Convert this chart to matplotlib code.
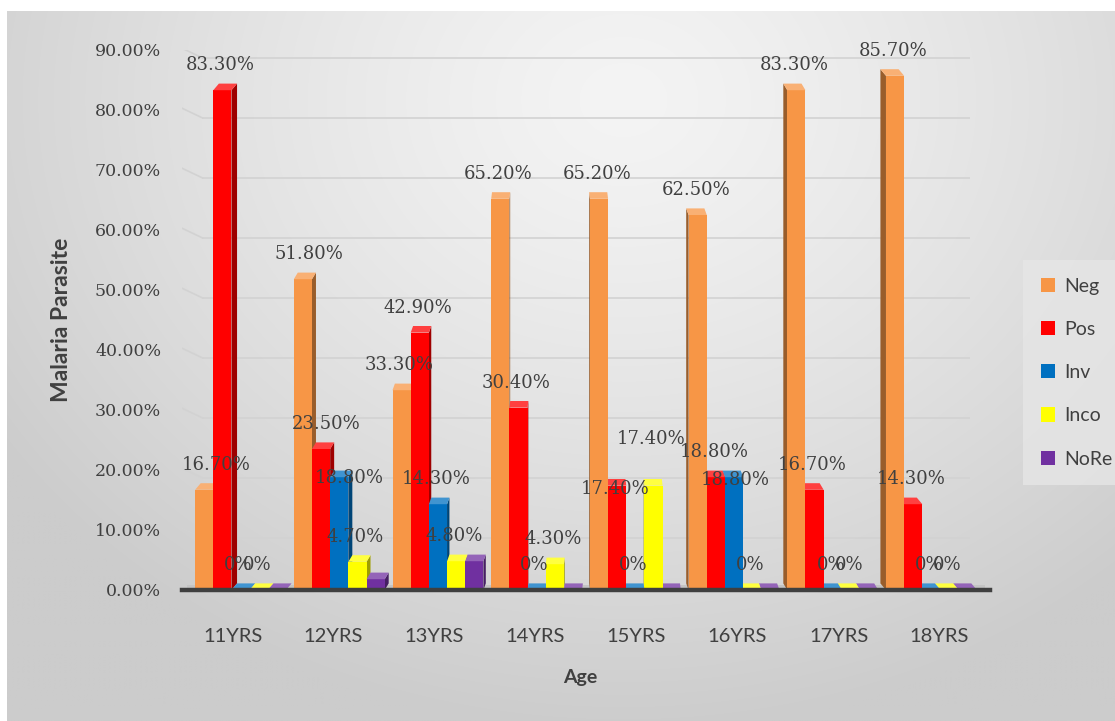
import numpy as np
import matplotlib
matplotlib.use("Agg")
import matplotlib.pyplot as plt
from matplotlib.patches import Polygon, Patch
from matplotlib.colors import to_rgb

# ---- data -------------------------------------------------------------
ages = ["11YRS", "12YRS", "13YRS", "14YRS", "15YRS", "16YRS", "17YRS", "18YRS"]
neg = [16.7, 51.8, 33.3, 65.2, 65.2, 62.5, 83.3, 85.7]
pos = [83.3, 23.5, 42.9, 30.4, 17.4, 18.8, 16.7, 14.3]
inv = [0.0, 18.8, 14.3, 0.0, 0.0, 18.8, 0.0, 0.0]
inco = [0.0, 4.7, 4.8, 4.3, 17.4, 0.0, 0.0, 0.0]
nore = [0.0, 1.8, 4.8, 0.0, 0.0, 0.0, 0.0, 0.0]
series_names = ["Neg", "Pos", "Inv", "Inco", "NoRe"]
series_values = [neg, pos, inv, inco, nore]
yticks = [0, 10, 20, 30, 40, 50, 60, 70, 80, 90]

colors = ["#F79646", "#FF0000", "#0070C0", "#FFFF00", "#7030A0"]
labelled = [True, True, True, True, False]

W, H = 1115, 721
fig = plt.figure(figsize=(W / 100, H / 100), dpi=100, facecolor="white")

# ---- soft grey chart-area background ----------------------------------
bg = fig.add_axes([0, 0, 1, 1], zorder=-10)
bg.set_xlim(0, W)
bg.set_ylim(H, 0)
bg.axis("off")
yy, xx = np.mgrid[0:H, 0:W]
d = np.sqrt(((xx - 620) / 1.0) ** 2 + ((yy - 90) / 0.85) ** 2) / 620.0
shade = np.clip(244 - 31 * d ** 1.3, 204, 244) / 255.0
bg.imshow(np.dstack([shade] * 3), extent=(7, W, H, 11), aspect="auto",
          interpolation="bilinear")

# ---- main axes --------------------------------------------------------
ax = fig.add_axes([182 / W, (H - 590) / H, 808 / W, 540 / H])
ax.set_facecolor("none")
ax.set_xlim(-0.5, 7.5)
ax.set_ylim(0, 90)
for s in ["top", "right", "left"]:
    ax.spines[s].set_visible(False)
ax.spines["bottom"].set_color("#3f3f3f")
ax.spines["bottom"].set_linewidth(3.2)
ax.spines["bottom"].set_zorder(30)

ax.set_yticks(yticks)
ax.set_yticklabels([f"{v:.2f}%" for v in yticks],
                   fontfamily="DejaVu Serif", fontsize=12.5, color="#404040")
ax.tick_params(axis="y", length=0, pad=15)
ax.set_xticks(range(len(ages)))
ax.set_xticklabels(ages, fontfamily="Lato", fontsize=14.5, color="#404040")
ax.tick_params(axis="x", length=0, pad=27)

# back-wall gridlines with a short slanted side-wall segment
depth = 1.3
grid_col = "#d2d2d2"
for v in yticks[1:]:
    ax.plot([-0.3, 7.3], [v - depth, v - depth], color=grid_col, lw=1.2,
            zorder=1, solid_capstyle="butt")
    ax.plot([-0.5, -0.3], [v + 0.3, v - depth], color=grid_col, lw=1.2,
            zorder=1)
ax.fill_between([-0.45, 7.45], 0, 0.9, color="#c4c4c4", zorder=1, lw=0)


def shade_col(c, f):
    r = np.array(to_rgb(c))
    return tuple(np.clip(r * f, 0, 1))


def lighten(c, f):
    r = np.array(to_rgb(c))
    return tuple(r + (1 - r) * f)


w = 0.18
dy = 1.1
nser = len(series_values)
for i in range(len(ages)):
    persp = (3.5 - i) / 3.5
    shift = 0.08 * persp
    dx = 0.055 * persp
    for j, vals in enumerate(series_values):
        v = vals[i]
        xc = i + shift + (j - 2) * w
        x0, x1 = xc - w / 2, xc + w / 2
        z = 10 + (j if dx >= 0 else nser - j)
        ax.bar(xc, v, width=w, color=colors[j], linewidth=0, zorder=z)
        if dx >= 0:
            side = [(x1, 0), (x1 + dx, dy), (x1 + dx, v + dy), (x1, v)]
        else:
            side = [(x0, 0), (x0 + dx, dy), (x0 + dx, v + dy), (x0, v)]
        ax.add_patch(Polygon(side, closed=True, lw=0,
                             fc=shade_col(colors[j], 0.62), zorder=z - 0.5))
        top = [(x0, v), (x1, v), (x1 + dx, v + dy), (x0 + dx, v + dy)]
        ax.add_patch(Polygon(top, closed=True, lw=0,
                             fc=lighten(colors[j], 0.25), zorder=z + 0.1))

# ---- data labels ------------------------------------------------------
# Offsets in pixels; a few labels are moved to keep them readable.
nudge = {(1, 2): (12, -26), (5, 2): (3, -28), (4, 1): (0, -28),
         (4, 3): (0, 22), (0, 0): (14, 0), (1, 0): (8, 0), (1, 1): (7, 0)}
px2pt = 72 / 100
for i in range(len(ages)):
    persp = (3.5 - i) / 3.5
    shift = 0.08 * persp
    for j, vals in enumerate(series_values):
        if not labelled[j]:
            continue
        v = vals[i]
        xc = i + shift + (j - 2) * w
        txt = "0%" if v == 0 else f"{v:.2f}%"
        ndx, ndy = nudge.get((i, j), (0, 0))
        ax.annotate(txt, (xc, v), xytext=((ndx - 2) * px2pt, (25 + ndy) * px2pt),
                    textcoords="offset points", ha="center", va="center",
                    fontfamily="DejaVu Serif", fontsize=13, color="#404040",
                    zorder=40)

# ---- axis titles ------------------------------------------------------
fig.text(580 / W, 1 - 678 / H, "Age", ha="center", va="center",
         fontfamily="Lato", fontweight="bold", fontsize=14, color="#404040")
fig.text(62 / W, 1 - 320 / H, "Malaria Parasite", ha="center", va="center",
         rotation=90, fontfamily="Lato", fontweight="bold", fontsize=16.5,
         color="#404040")

# ---- legend -----------------------------------------------------------
handles = [Patch(facecolor=c, edgecolor="none") for c in colors]
leg = fig.legend(handles, series_names, loc="upper left",
                 bbox_to_anchor=(1023 / W, 1 - 260 / H),
                 prop={"family": "Lato", "size": 14}, labelcolor="#404040",
                 frameon=True, fancybox=False, labelspacing=1.35,
                 handlelength=0.75, handleheight=0.75, handletextpad=0.45,
                 borderpad=0.9, borderaxespad=0)
leg.get_frame().set_facecolor("#e6e6e6")
leg.get_frame().set_edgecolor("none")

fig.savefig("out.png", dpi=100, facecolor="white")
